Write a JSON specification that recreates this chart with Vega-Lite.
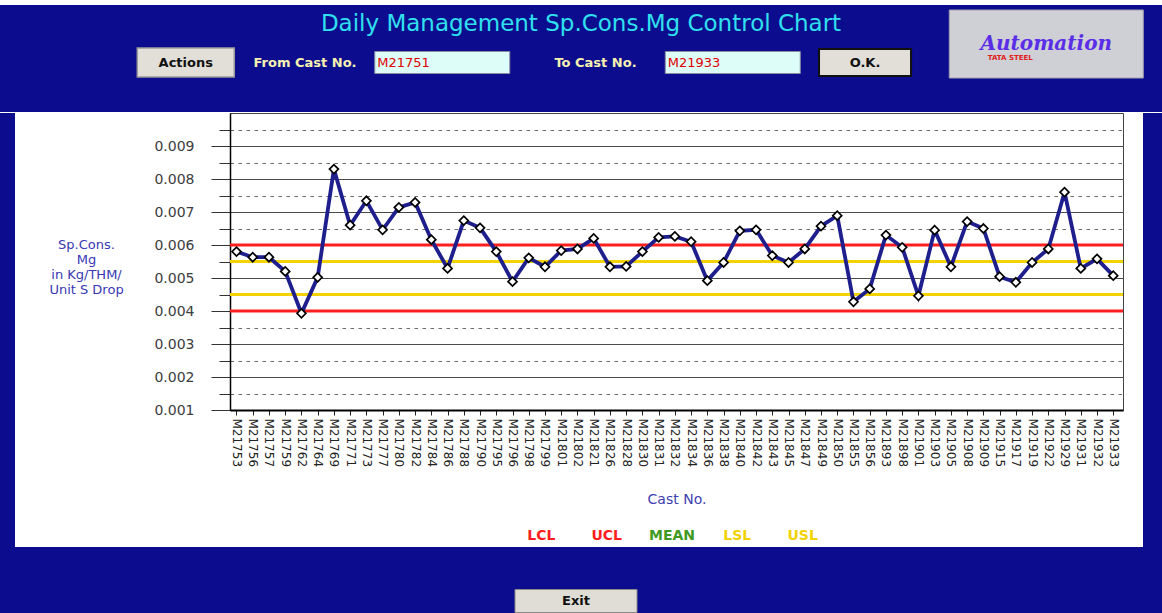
{
  "$schema": "https://vega.github.io/schema/vega-lite/v6.json",
  "background": "white",
  "padding": {"top": 5, "left": 0, "right": 0, "bottom": 0},
  "config": {
    "font": "DejaVu Sans",
    "view": {"stroke": null},
    "concat": {"spacing": 0}
  },
  "datasets": {
    "casts": [
      {"cast": "M21753", "v": 0.0058},
      {"cast": "M21756", "v": 0.00563},
      {"cast": "M21757", "v": 0.00563},
      {"cast": "M21759", "v": 0.0052},
      {"cast": "M21762", "v": 0.00393},
      {"cast": "M21764", "v": 0.00502},
      {"cast": "M21769", "v": 0.0083},
      {"cast": "M21771", "v": 0.0066},
      {"cast": "M21773", "v": 0.00734},
      {"cast": "M21777", "v": 0.00646},
      {"cast": "M21780", "v": 0.00714},
      {"cast": "M21782", "v": 0.00729},
      {"cast": "M21784", "v": 0.00616},
      {"cast": "M21786", "v": 0.00529},
      {"cast": "M21788", "v": 0.00674},
      {"cast": "M21790", "v": 0.00652},
      {"cast": "M21795", "v": 0.0058},
      {"cast": "M21796", "v": 0.00489},
      {"cast": "M21798", "v": 0.00561},
      {"cast": "M21799", "v": 0.00534},
      {"cast": "M21801", "v": 0.00583},
      {"cast": "M21802", "v": 0.00588},
      {"cast": "M21821", "v": 0.0062},
      {"cast": "M21826", "v": 0.00534},
      {"cast": "M21828", "v": 0.00535},
      {"cast": "M21830", "v": 0.0058},
      {"cast": "M21831", "v": 0.00623},
      {"cast": "M21832", "v": 0.00626},
      {"cast": "M21834", "v": 0.0061},
      {"cast": "M21836", "v": 0.00492},
      {"cast": "M21838", "v": 0.00547},
      {"cast": "M21840", "v": 0.00643},
      {"cast": "M21842", "v": 0.00646},
      {"cast": "M21843", "v": 0.00568},
      {"cast": "M21845", "v": 0.00547},
      {"cast": "M21847", "v": 0.00588},
      {"cast": "M21849", "v": 0.00657},
      {"cast": "M21850", "v": 0.00689},
      {"cast": "M21855", "v": 0.00428},
      {"cast": "M21856", "v": 0.00467},
      {"cast": "M21893", "v": 0.0063},
      {"cast": "M21898", "v": 0.00593},
      {"cast": "M21901", "v": 0.00446},
      {"cast": "M21903", "v": 0.00645},
      {"cast": "M21905", "v": 0.00534},
      {"cast": "M21908", "v": 0.00671},
      {"cast": "M21909", "v": 0.0065},
      {"cast": "M21915", "v": 0.00504},
      {"cast": "M21917", "v": 0.00487},
      {"cast": "M21919", "v": 0.00547},
      {"cast": "M21922", "v": 0.00588},
      {"cast": "M21929", "v": 0.0076},
      {"cast": "M21931", "v": 0.00529},
      {"cast": "M21932", "v": 0.00558},
      {"cast": "M21933", "v": 0.00507}
    ],
    "limits": [
      {"limit": "UCL", "v": 0.006},
      {"limit": "LCL", "v": 0.004},
      {"limit": "USL", "v": 0.0055},
      {"limit": "LSL", "v": 0.0045}
    ],
    "legendItems": [
      {"name": "LCL"}, {"name": "UCL"}, {"name": "MEAN"}, {"name": "LSL"}, {"name": "USL"}
    ],
    "header": [
      {"item": "Actions", "kind": "button"},
      {"item": "From Cast No.", "kind": "label"},
      {"item": "M21751", "kind": "box"},
      {"item": "To Cast No.", "kind": "label"},
      {"item": "M21933", "kind": "box"},
      {"item": "O.K.", "kind": "button"},
      {"item": "Automation", "kind": "logo"}
    ],
    "pageTitle": [{"t": "Daily Management Sp.Cons.Mg Control Chart"}],
    "footer": [{"item": "Exit"}],
    "blank": [{}]
  },
  "vconcat": [
    {
      "width": 1162,
      "height": 107,
      "view": {"fill": "#0c0c8e", "stroke": null},
      "layer": [
        {"data": {"name": "pageTitle"}, "mark": {"type": "text", "fontSize": 23, "color": "#30e0ee", "baseline": "alphabetic", "yOffset": -27.5}, "encoding": {"text": {"field": "t"}}},
        {"data": {"name": "header"}, "transform": [{"filter": "datum.item == 'Actions'"}], "mark": {"type": "rect", "width": 97, "height": 29, "fill": "#e2dfd8", "stroke": "#9a9a9a", "strokeWidth": 1.5, "yOffset": 57.5, "xOffset": 26},
         "encoding": {"x": {"field": "item", "type": "nominal", "sort": null, "scale": {"type": "point", "domain": ["Actions", "From Cast No.", "M21751", "To Cast No.", "M21933", "O.K.", "Automation"], "padding": 1, "align": 0.55}, "axis": null}}},
        {"data": {"name": "header"}, "transform": [{"filter": "datum.item == 'O.K.'"}], "mark": {"type": "rect", "width": 92, "height": 27, "fill": "#e2dfd8", "stroke": "#111111", "strokeWidth": 2, "yOffset": 57.5, "xOffset": -21},
         "encoding": {"x": {"field": "item", "type": "nominal", "sort": null}}},
        {"data": {"name": "header"}, "transform": [{"filter": "datum.kind == 'box'"}], "mark": {"type": "rect", "width": 135, "height": 22, "fill": "#dcfdf8", "stroke": "#8a8aa0", "yOffset": 57.5, "xOffset": -8},
         "encoding": {"x": {"field": "item", "type": "nominal", "sort": null}}},
        {"data": {"name": "header"}, "transform": [{"filter": "datum.kind == 'logo'"}], "mark": {"type": "rect", "width": 194, "height": 68, "fill": "#cfcfd6", "stroke": "#a0a0ac", "yOffset": 39, "xOffset": 15},
         "encoding": {"x": {"field": "item", "type": "nominal", "sort": null}}},
        {"data": {"name": "header"}, "transform": [{"filter": "datum.item == 'Actions'"}], "mark": {"type": "text", "fontWeight": "bold", "fontSize": 13, "color": "#111111", "yOffset": 4, "xOffset": 26},
         "encoding": {"x": {"field": "item", "type": "nominal", "sort": null}, "text": {"field": "item"}}},
        {"data": {"name": "header"}, "transform": [{"filter": "datum.item == 'O.K.'"}], "mark": {"type": "text", "fontWeight": "bold", "fontSize": 13, "color": "#111111", "yOffset": 4, "xOffset": -21},
         "encoding": {"x": {"field": "item", "type": "nominal", "sort": null}, "text": {"field": "item"}}},
        {"data": {"name": "header"}, "transform": [{"filter": "datum.kind == 'label'"}], "mark": {"type": "text", "fontWeight": "bold", "fontSize": 13, "color": "#f7f2b0", "yOffset": 4},
         "encoding": {"x": {"field": "item", "type": "nominal", "sort": null}, "text": {"field": "item"}}},
        {"data": {"name": "header"}, "transform": [{"filter": "datum.kind == 'box'"}], "mark": {"type": "text", "fontSize": 13, "color": "#e00000", "align": "left", "xOffset": -73, "yOffset": 4},
         "encoding": {"x": {"field": "item", "type": "nominal", "sort": null}, "text": {"field": "item"}}},
        {"data": {"name": "header"}, "transform": [{"filter": "datum.kind == 'logo'"}], "mark": {"type": "text", "font": "DejaVu Serif", "fontSize": 20, "fontStyle": "italic", "fontWeight": "bold", "color": "#5a2ee6", "yOffset": -14.5, "xOffset": 15},
         "encoding": {"x": {"field": "item", "type": "nominal", "sort": null}, "text": {"field": "item"}}},
        {"data": {"name": "header"}, "transform": [{"filter": "datum.kind == 'logo'"}], "mark": {"type": "text", "text": "TATA STEEL", "fontSize": 7, "fontWeight": "bold", "color": "#e02020", "yOffset": -0.5, "xOffset": -21},
         "encoding": {"x": {"field": "item", "type": "nominal", "sort": null}}}
      ]
    },
    {
      "hconcat": [
        {"width": 15, "height": 434, "view": {"fill": "#0c0c8e", "stroke": null}, "data": {"name": "blank"}, "mark": {"type": "point", "opacity": 0}},
        {
          "hconcat": [
            {
              "vconcat": [
                {
                  "width": 893,
                  "height": 297,
                  "view": {"fill": "white", "stroke": "#444444", "strokeWidth": 1},
                  "layer": [
                    {
                      "data": {"name": "limits"},
                      "mark": {"type": "rule", "strokeWidth": 3},
                      "encoding": {
                        "y": {"field": "v", "type": "quantitative"},
                        "color": {"field": "limit", "type": "nominal", "scale": {"domain": ["LCL", "UCL", "MEAN", "LSL", "USL"], "range": ["#ff1e1e", "#ff1e1e", "#3f9a1f", "#f2d200", "#f2d200"]}, "legend": null}
                      }
                    },
                    {
                      "data": {"name": "casts"},
                      "mark": {"type": "line", "color": "#1e1e8c", "strokeWidth": 3.8},
                      "encoding": {
                        "x": {
                          "field": "cast", "type": "ordinal", "sort": null,
                          "scale": {"type": "point", "padding": 0.5, "align": 0.4},
                          "axis": {
                            "labelAngle": 90, "labelFont": "DejaVu Sans", "labelFontSize": 12, "labelColor": "#222222", "labelPadding": 3, "labelOverlap": false,
                            "tickSize": 5, "tickColor": "#222222", "domainColor": "#000000", "domainWidth": 2, "grid": false,
                            "title": "Cast No.", "titleFont": "DejaVu Sans", "titleFontSize": 14, "titleFontWeight": "normal", "titleColor": "#4040b0", "titlePadding": 26
                          }
                        },
                        "y": {
                          "field": "v", "type": "quantitative",
                          "scale": {"domain": [0.001, 0.01], "nice": false, "zero": false},
                          "axis": {
                            "values": [0.001, 0.0015, 0.002, 0.0025, 0.003, 0.0035, 0.004, 0.0045, 0.005, 0.0055, 0.006, 0.0065, 0.007, 0.0075, 0.008, 0.0085, 0.009, 0.0095],
                            "tickCount": 30,
                            "labelExpr": "round(datum.value * 2000) % 2 == 0 ? format(datum.value, '.3f') : ''",
                            "labelOverlap": false,
                            "grid": true,
                            "gridColor": {"condition": {"test": "round(datum.value * 2000) % 2 == 1", "value": "#6a6a6a"}, "value": "#4a4a4a"},
                            "gridDash": {"condition": {"test": "round(datum.value * 2000) % 2 == 1", "value": [3.5, 4.5]}, "value": []},
                            "gridWidth": 1.2,
                            "tickSize": {"condition": {"test": "round(datum.value * 2000) % 2 == 1", "value": 11}, "value": 19},
                            "tickColor": "#333333",
                            "labelPadding": 17,
                            "labelFont": "DejaVu Sans", "labelFontSize": 14, "labelColor": "#3c3c3c",
                            "domainColor": "#000000", "domainWidth": 1.5,
                            "title": ["Sp.Cons.", "Mg", "in Kg/THM/", "Unit S Drop"],
                            "titleAngle": 0, "titleAlign": "center", "titleBaseline": "top",
                            "titleX": -144, "titleY": 125,
                            "titleFont": "DejaVu Sans", "titleFontSize": 13, "titleFontWeight": "normal", "titleColor": "#3838b4", "titleLineHeight": 15
                          }
                        }
                      }
                    },
                    {
                      "data": {"name": "casts"},
                      "mark": {"type": "point", "shape": "diamond", "filled": true, "fill": "white", "stroke": "black", "strokeWidth": 1.7, "size": 80, "opacity": 1},
                      "encoding": {
                        "x": {"field": "cast", "type": "ordinal", "sort": null},
                        "y": {"field": "v", "type": "quantitative"}
                      }
                    }
                  ]
                },
                {
                  "hconcat": [
                    {"width": 246, "height": 21, "data": {"name": "blank"}, "mark": {"type": "point", "opacity": 0}},
                    {
                      "width": 392,
                      "height": 21,
                      "data": {"name": "legendItems"},
                      "mark": {"type": "text", "fontWeight": "bold", "fontSize": 14},
                      "encoding": {
                        "x": {"field": "name", "type": "nominal", "sort": null, "scale": {"type": "point", "domain": ["LCL", "UCL", "MEAN", "LSL", "USL"], "padding": 1}, "axis": null},
                        "text": {"field": "name"},
                        "color": {"field": "name", "type": "nominal", "scale": {"domain": ["LCL", "UCL", "MEAN", "LSL", "USL"], "range": ["#ff2424", "#ff2424", "#3f9a1f", "#f0d020", "#f0d020"]}, "legend": null}
                      }
                    }
                  ],
                  "spacing": 0
                }
              ],
              "spacing": 17
            },
            {"width": 21, "height": 434, "view": {"fill": "#0c0c8e", "stroke": null}, "data": {"name": "blank"}, "mark": {"type": "point", "opacity": 0}}
          ],
          "spacing": 18
        }
      ],
      "spacing": 33
    },
    {
      "width": 1162,
      "height": 67,
      "view": {"fill": "#0c0c8e", "stroke": null},
      "data": {"name": "footer"},
      "encoding": {
        "x": {"field": "item", "type": "nominal", "scale": {"type": "point"}, "axis": null}
      },
      "layer": [
        {"mark": {"type": "rect", "width": 122, "height": 23, "fill": "#e0ddd6", "stroke": "#8a8a8a", "yOffset": 54, "xOffset": -5}},
        {"mark": {"type": "text", "fontWeight": "bold", "fontSize": 13, "color": "#111111", "yOffset": 20.5, "xOffset": -5}, "encoding": {"text": {"field": "item"}}}
      ]
    }
  ],
  "spacing": 0
}
